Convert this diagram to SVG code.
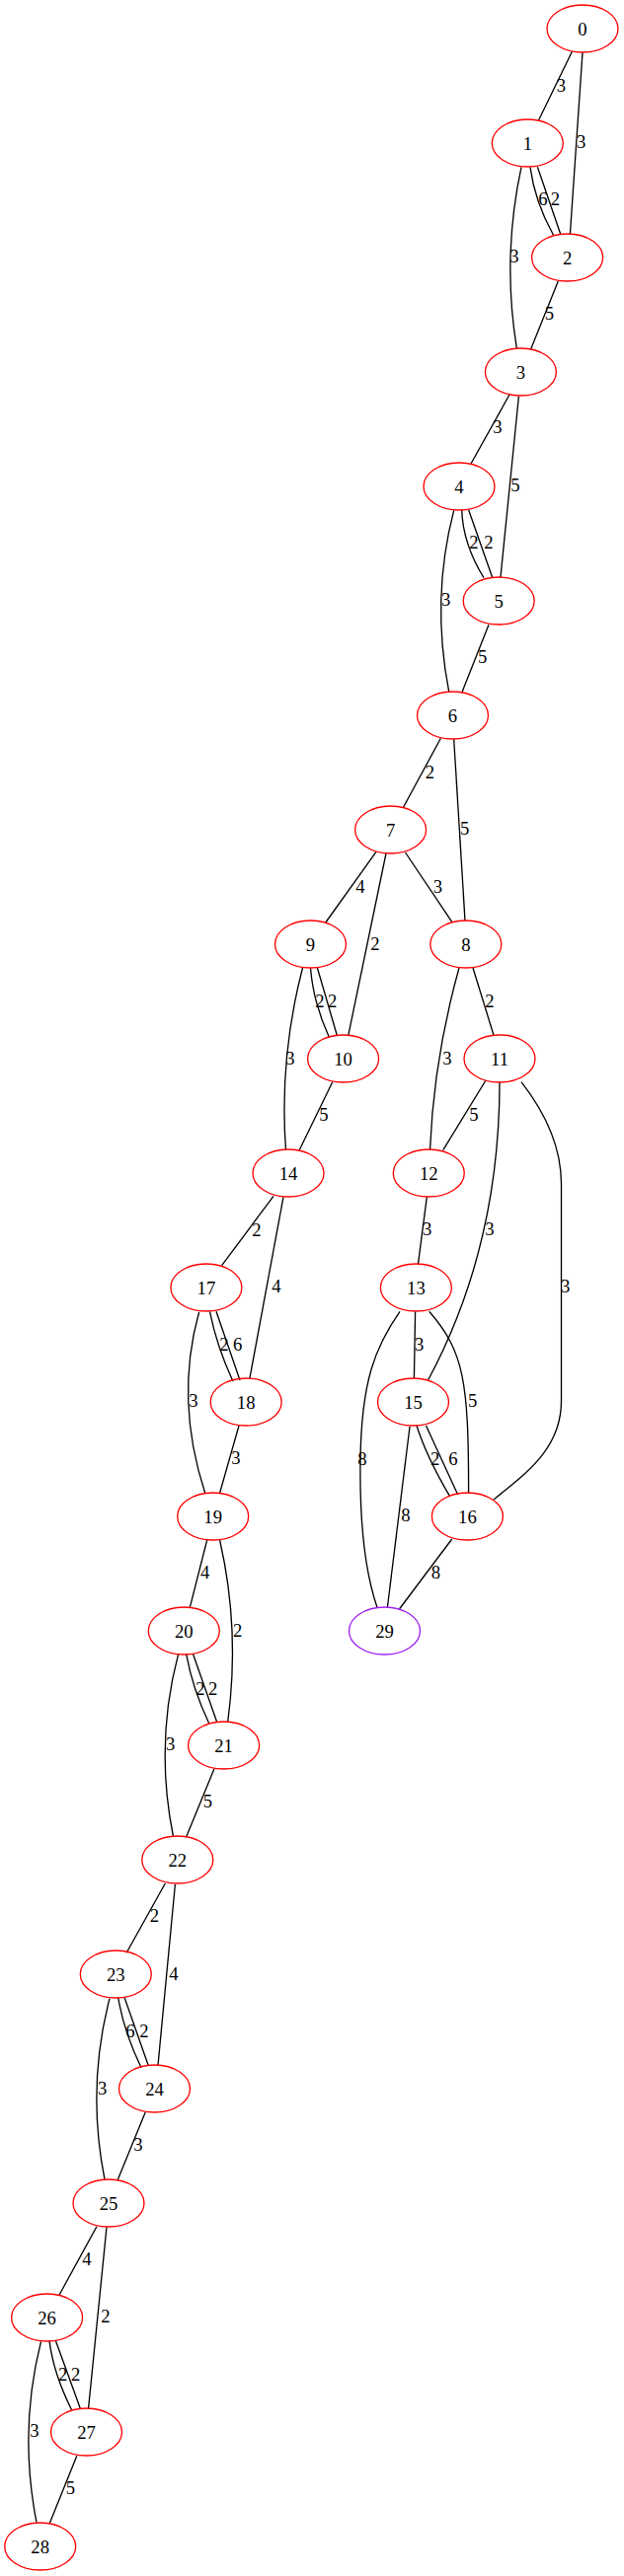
<svg xmlns="http://www.w3.org/2000/svg" width="632" height="2611" viewBox="0 0 632 2611">
<style>
.n ellipse{fill:none;stroke:#ff0000;stroke-width:1.33}
.n.p ellipse{stroke:#a020f0}
text{font-family:"Liberation Serif","Times New Roman",serif;font-size:18.67px;text-anchor:middle;fill:#000}
#edges path{fill:none;stroke:#000;stroke-width:1.33}
</style>
<rect width="632" height="2611" fill="#fff"/>
<g id="edges">
<path d="M579.4,52.3 L545.6,121.7"/><text x="568.5" y="93">3</text>
<path d="M590,53.3 L577.4,237.3"/><text x="588.7" y="150">3</text>
<path d="M537,169.3 Q541.5,203.8 560.5,238.3"/><text x="550" y="207.7">6</text>
<path d="M544.4,169.3 L567.7,237.3"/><text x="562.5" y="207.7">2</text>
<path d="M528,169.3 Q508.3,260.7 523.4,353.3"/><text x="521" y="266">3</text>
<path d="M565.3,285 L537.5,354.3"/><text x="556.5" y="324">5</text>
<path d="M516,400 L477,470"/><text x="504" y="439.3">3</text>
<path d="M525.4,401.7 L506.9,585.7"/><text x="522" y="497.7">5</text>
<path d="M467.7,516.7 Q468.7,550.8 490,585.7"/><text x="480" y="556">2</text>
<path d="M474.6,516.7 L498.8,585.7"/><text x="495" y="556">2</text>
<path d="M459.7,517.3 Q436.3,606.5 454.8,701.7"/><text x="451.6" y="614">3</text>
<path d="M495,633.3 L467.7,702.3"/><text x="488.7" y="672">5</text>
<path d="M446.4,748.3 L408.5,818.3"/><text x="435.5" y="789">2</text>
<path d="M459.7,749.3 L471,933.3"/><text x="470.6" y="846">5</text>
<path d="M381,863.3 L329.8,935"/><text x="365" y="905">4</text>
<path d="M391,865 L352.8,1049.3"/><text x="380" y="962.7">2</text>
<path d="M410.5,864 L457.7,934.3"/><text x="443.5" y="905">3</text>
<path d="M314.5,981 Q317.2,1016 333.5,1051.7"/><text x="324" y="1021">2</text>
<path d="M321.4,981 L341.5,1050"/><text x="336.7" y="1021">2</text>
<path d="M306.5,981 Q282.6,1073 289.5,1165.7"/><text x="294" y="1078.7">3</text>
<path d="M336.7,1096.7 L303.2,1165.7"/><text x="328" y="1136">5</text>
<path d="M465,981 Q439.3,1073 435.5,1165.7"/><text x="453" y="1078.7">3</text>
<path d="M479,981 L500,1049.3"/><text x="496" y="1021">2</text>
<path d="M492,1095 L448.8,1165.7"/><text x="480" y="1136">5</text>
<path d="M506,1096.7 C506,1180 492,1290 433.5,1399"/><text x="496" y="1252">3</text>
<path d="M528,1096.7 C550,1125 568.5,1160 568.5,1200 L568.5,1420 C568.5,1470 530,1495 500,1520"/><text x="572.6" y="1310">3</text>
<path d="M277,1212.3 L224.6,1282.7"/><text x="260" y="1252.7">2</text>
<path d="M287,1213.3 L252.8,1397.7"/><text x="280" y="1310">4</text>
<path d="M432.3,1213.3 L423.4,1281.7"/><text x="432.7" y="1252">3</text>
<path d="M212.5,1329.3 Q219.4,1364 235.9,1400"/><text x="227" y="1368.7">2</text>
<path d="M219,1329.3 L243,1399"/><text x="240.7" y="1368.7">6</text>
<path d="M201.6,1330 Q176.8,1418.4 207.7,1513.3"/><text x="196" y="1426">3</text>
<path d="M242,1445 L222.6,1513.3"/><text x="239" y="1484">3</text>
<path d="M420.6,1329.3 L419.4,1397.3"/><text x="424.6" y="1368.7">3</text>
<path d="M434.7,1329.3 C470,1370 474.6,1400 474.6,1513.3"/><text x="478.6" y="1426">5</text>
<path d="M405,1329.3 C380,1365 366,1400 365,1480 C364,1550 372,1600 382,1629.3"/><text x="367" y="1485">8</text>
<path d="M422,1445 Q432.2,1477 455.6,1516.7"/><text x="440.7" y="1485">2</text>
<path d="M431.5,1445 L463.7,1515"/><text x="459" y="1485">6</text>
<path d="M415,1446 L392.3,1630"/><text x="411" y="1542">8</text>
<path d="M457.7,1560 L404.4,1631"/><text x="441.5" y="1600">8</text>
<path d="M209.7,1561 L192.3,1629.3"/><text x="207.7" y="1600">4</text>
<path d="M222.6,1561 Q243.4,1652 230.6,1746"/><text x="240.7" y="1658.7">2</text>
<path d="M188.7,1676.7 Q195,1711.7 211.7,1746.7"/><text x="203" y="1717.7">2</text>
<path d="M195.6,1676.7 L219.8,1745.7"/><text x="215.7" y="1717.7">2</text>
<path d="M180.6,1676.7 Q156.6,1767 175.4,1861"/><text x="172.6" y="1774">3</text>
<path d="M217,1792.7 L188.7,1861.7"/><text x="210.5" y="1832">5</text>
<path d="M167.3,1909 L128.2,1979.3"/><text x="156.5" y="1947.7">2</text>
<path d="M177.4,1910 L160,2093.3"/><text x="175.8" y="2006.7">4</text>
<path d="M119.8,2025 Q125,2058 143,2095.7"/><text x="132" y="2065">6</text>
<path d="M126.2,2025 L150.4,2094"/><text x="146" y="2065">2</text>
<path d="M111,2025.7 Q87.5,2116 106,2209"/><text x="103.6" y="2122.7">3</text>
<path d="M147.2,2141 L119,2210"/><text x="140" y="2180">3</text>
<path d="M98,2256.7 L59.7,2326.7"/><text x="88" y="2296">4</text>
<path d="M108,2257.3 L89.5,2441.7"/><text x="107" y="2354">2</text>
<path d="M50,2372.7 Q54.1,2405.7 72.6,2442.7"/><text x="63.7" y="2412.7">2</text>
<path d="M56.5,2372.7 L81.5,2441.7"/><text x="76.6" y="2412.7">2</text>
<path d="M41.5,2373.3 Q18.75,2463 37,2556.7"/><text x="35" y="2470">3</text>
<path d="M77.8,2489.3 L50.4,2557.3"/><text x="71.4" y="2528">5</text>
</g>
<g id="node0" class="n"><ellipse cx="590" cy="29" rx="36" ry="24"/><text x="590" y="35.5">0</text></g>
<g id="node1" class="n"><ellipse cx="534.3" cy="145" rx="36" ry="24"/><text x="534.3" y="151.5">1</text></g>
<g id="node2" class="n"><ellipse cx="574.6" cy="261" rx="36" ry="24"/><text x="574.6" y="267.5">2</text></g>
<g id="node3" class="n"><ellipse cx="527.4" cy="377" rx="36" ry="24"/><text x="527.4" y="383.5">3</text></g>
<g id="node4" class="n"><ellipse cx="465" cy="493" rx="36" ry="24"/><text x="465" y="499.5">4</text></g>
<g id="node5" class="n"><ellipse cx="505.2" cy="609" rx="36" ry="24"/><text x="505.2" y="615.5">5</text></g>
<g id="node6" class="n"><ellipse cx="458.5" cy="725" rx="36" ry="24"/><text x="458.5" y="731.5">6</text></g>
<g id="node7" class="n"><ellipse cx="395.6" cy="841" rx="36" ry="24"/><text x="395.6" y="847.5">7</text></g>
<g id="node8" class="n"><ellipse cx="471.8" cy="957" rx="36" ry="24"/><text x="471.8" y="963.5">8</text></g>
<g id="node9" class="n"><ellipse cx="314.5" cy="957" rx="36" ry="24"/><text x="314.5" y="963.5">9</text></g>
<g id="node10" class="n"><ellipse cx="347.6" cy="1073" rx="36" ry="24"/><text x="347.6" y="1079.5">10</text></g>
<g id="node11" class="n"><ellipse cx="506" cy="1073" rx="36" ry="24"/><text x="506" y="1079.5">11</text></g>
<g id="node12" class="n"><ellipse cx="434.3" cy="1189" rx="36" ry="24"/><text x="434.3" y="1195.5">12</text></g>
<g id="node13" class="n"><ellipse cx="421.4" cy="1305" rx="36" ry="24"/><text x="421.4" y="1311.5">13</text></g>
<g id="node14" class="n"><ellipse cx="292" cy="1189" rx="36" ry="24"/><text x="292" y="1195.5">14</text></g>
<g id="node15" class="n"><ellipse cx="418.5" cy="1421" rx="36" ry="24"/><text x="418.5" y="1427.5">15</text></g>
<g id="node16" class="n"><ellipse cx="473.4" cy="1537" rx="36" ry="24"/><text x="473.4" y="1543.5">16</text></g>
<g id="node17" class="n"><ellipse cx="208.9" cy="1305" rx="36" ry="24"/><text x="208.9" y="1311.5">17</text></g>
<g id="node18" class="n"><ellipse cx="249.2" cy="1421" rx="36" ry="24"/><text x="249.2" y="1427.5">18</text></g>
<g id="node19" class="n"><ellipse cx="215.7" cy="1537" rx="36" ry="24"/><text x="215.7" y="1543.5">19</text></g>
<g id="node20" class="n"><ellipse cx="186.3" cy="1653" rx="36" ry="24"/><text x="186.3" y="1659.5">20</text></g>
<g id="node21" class="n"><ellipse cx="226.6" cy="1769" rx="36" ry="24"/><text x="226.6" y="1775.5">21</text></g>
<g id="node22" class="n"><ellipse cx="179.8" cy="1885" rx="36" ry="24"/><text x="179.8" y="1891.5">22</text></g>
<g id="node23" class="n"><ellipse cx="117.3" cy="2001" rx="36" ry="24"/><text x="117.3" y="2007.5">23</text></g>
<g id="node24" class="n"><ellipse cx="156.5" cy="2117" rx="36" ry="24"/><text x="156.5" y="2123.5">24</text></g>
<g id="node25" class="n"><ellipse cx="110" cy="2233" rx="36" ry="24"/><text x="110" y="2239.5">25</text></g>
<g id="node26" class="n"><ellipse cx="47.6" cy="2349" rx="36" ry="24"/><text x="47.6" y="2355.5">26</text></g>
<g id="node27" class="n"><ellipse cx="87.5" cy="2465" rx="36" ry="24"/><text x="87.5" y="2471.5">27</text></g>
<g id="node28" class="n"><ellipse cx="40.7" cy="2581" rx="36" ry="24"/><text x="40.7" y="2587.5">28</text></g>
<g id="node29" class="n p"><ellipse cx="389.5" cy="1653" rx="36" ry="24"/><text x="389.5" y="1659.5">29</text></g>
</svg>
